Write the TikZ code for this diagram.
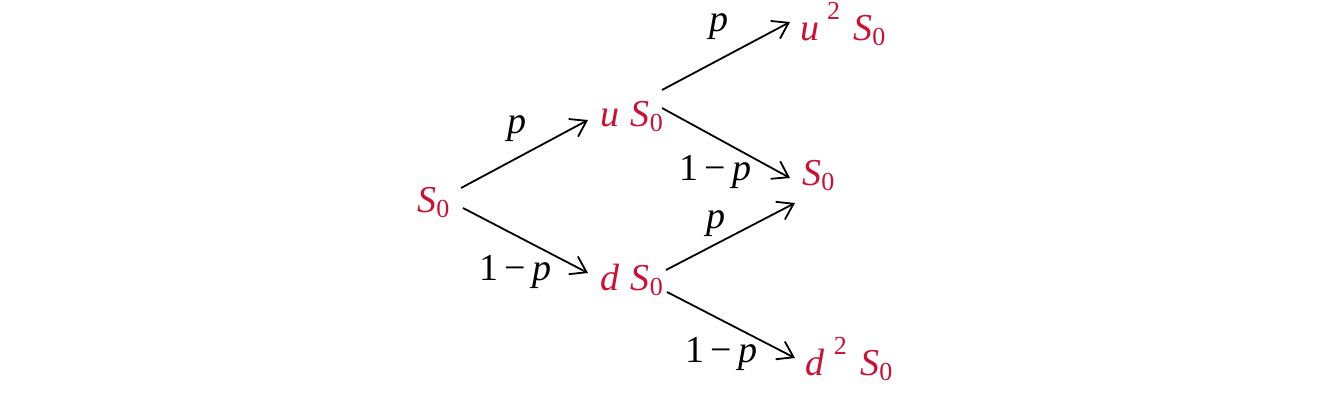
\documentclass[tikz,border=0pt]{standalone}
\usepackage{fontspec}
\setmainfont{Liberation Serif}
\usetikzlibrary{arrows.meta}
\definecolor{tred}{RGB}{204,16,52}
\newcommand\Szro{\textit{S}\raisebox{-0.15em}{\fontsize{13}{13}\selectfont 0}}
\newcommand\supt{\raisebox{0.55em}{\fontsize{13}{13}\selectfont 2}}
\begin{document}
\begin{tikzpicture}[x=0.5pt,y=-0.5pt,
  state/.style={anchor=base west,inner sep=0pt,text=tred,font=\fontsize{19}{20}\selectfont},
  prob/.style={anchor=base west,inner sep=0pt,text=black,font=\fontsize{19}{20}\selectfont},
  edge/.style={draw=black,line width=0.9pt,-{Straight Barb[length=7.5pt,width=10pt,line width=0.9pt]}}]
\useasboundingbox (0,0) rectangle (1324,402);
\node[state] (s0) at (417,212) {\Szro};
\node[state] (u) at (600,126) {\textit{u}\hspace{0.3em}\Szro};
\node[state] (d) at (600,290) {\textit{d}\hspace{0.3em}\Szro};
\node[state] (uu) at (800,40) {\textit{u}\hspace{0.2em}\supt\hspace{0.35em}\Szro};
\node[state] (m) at (802,185) {\Szro};
\node[state] (dd) at (805,375) {\textit{d}\hspace{0.25em}\supt\hspace{0.35em}\Szro};
\node[prob] (p1) at (507,133) {\textit{p}};
\node[prob] (q1) at (479,280) {1\,−\,\textit{p}};
\node[prob] (p2) at (709,31) {\textit{p}};
\node[prob] (q2) at (679,180) {1\,−\,\textit{p}};
\node[prob] (p3) at (706,228) {\textit{p}};
\node[prob] (q3) at (685,362) {1\,−\,\textit{p}};
\draw[edge] ([shift={(44,-24)}]s0.base west) -- ([shift={(-12,-6)}]u.base west);
\draw[edge] ([shift={(46,-4)}]s0.base west) -- ([shift={(-12,-17)}]d.base west);
\draw[edge] ([shift={(62,-36)}]u.base west) -- ([shift={(-10,-18)}]uu.base west);
\draw[edge] ([shift={(62,-18)}]u.base west) -- ([shift={(-12,-7)}]m.base west);
\draw[edge] ([shift={(66,-20)}]d.base west) -- ([shift={(-7,18)}]m.base west);
\draw[edge] ([shift={(67,2)}]d.base west) -- ([shift={(-10,-17)}]dd.base west);
\end{tikzpicture}
\end{document}
